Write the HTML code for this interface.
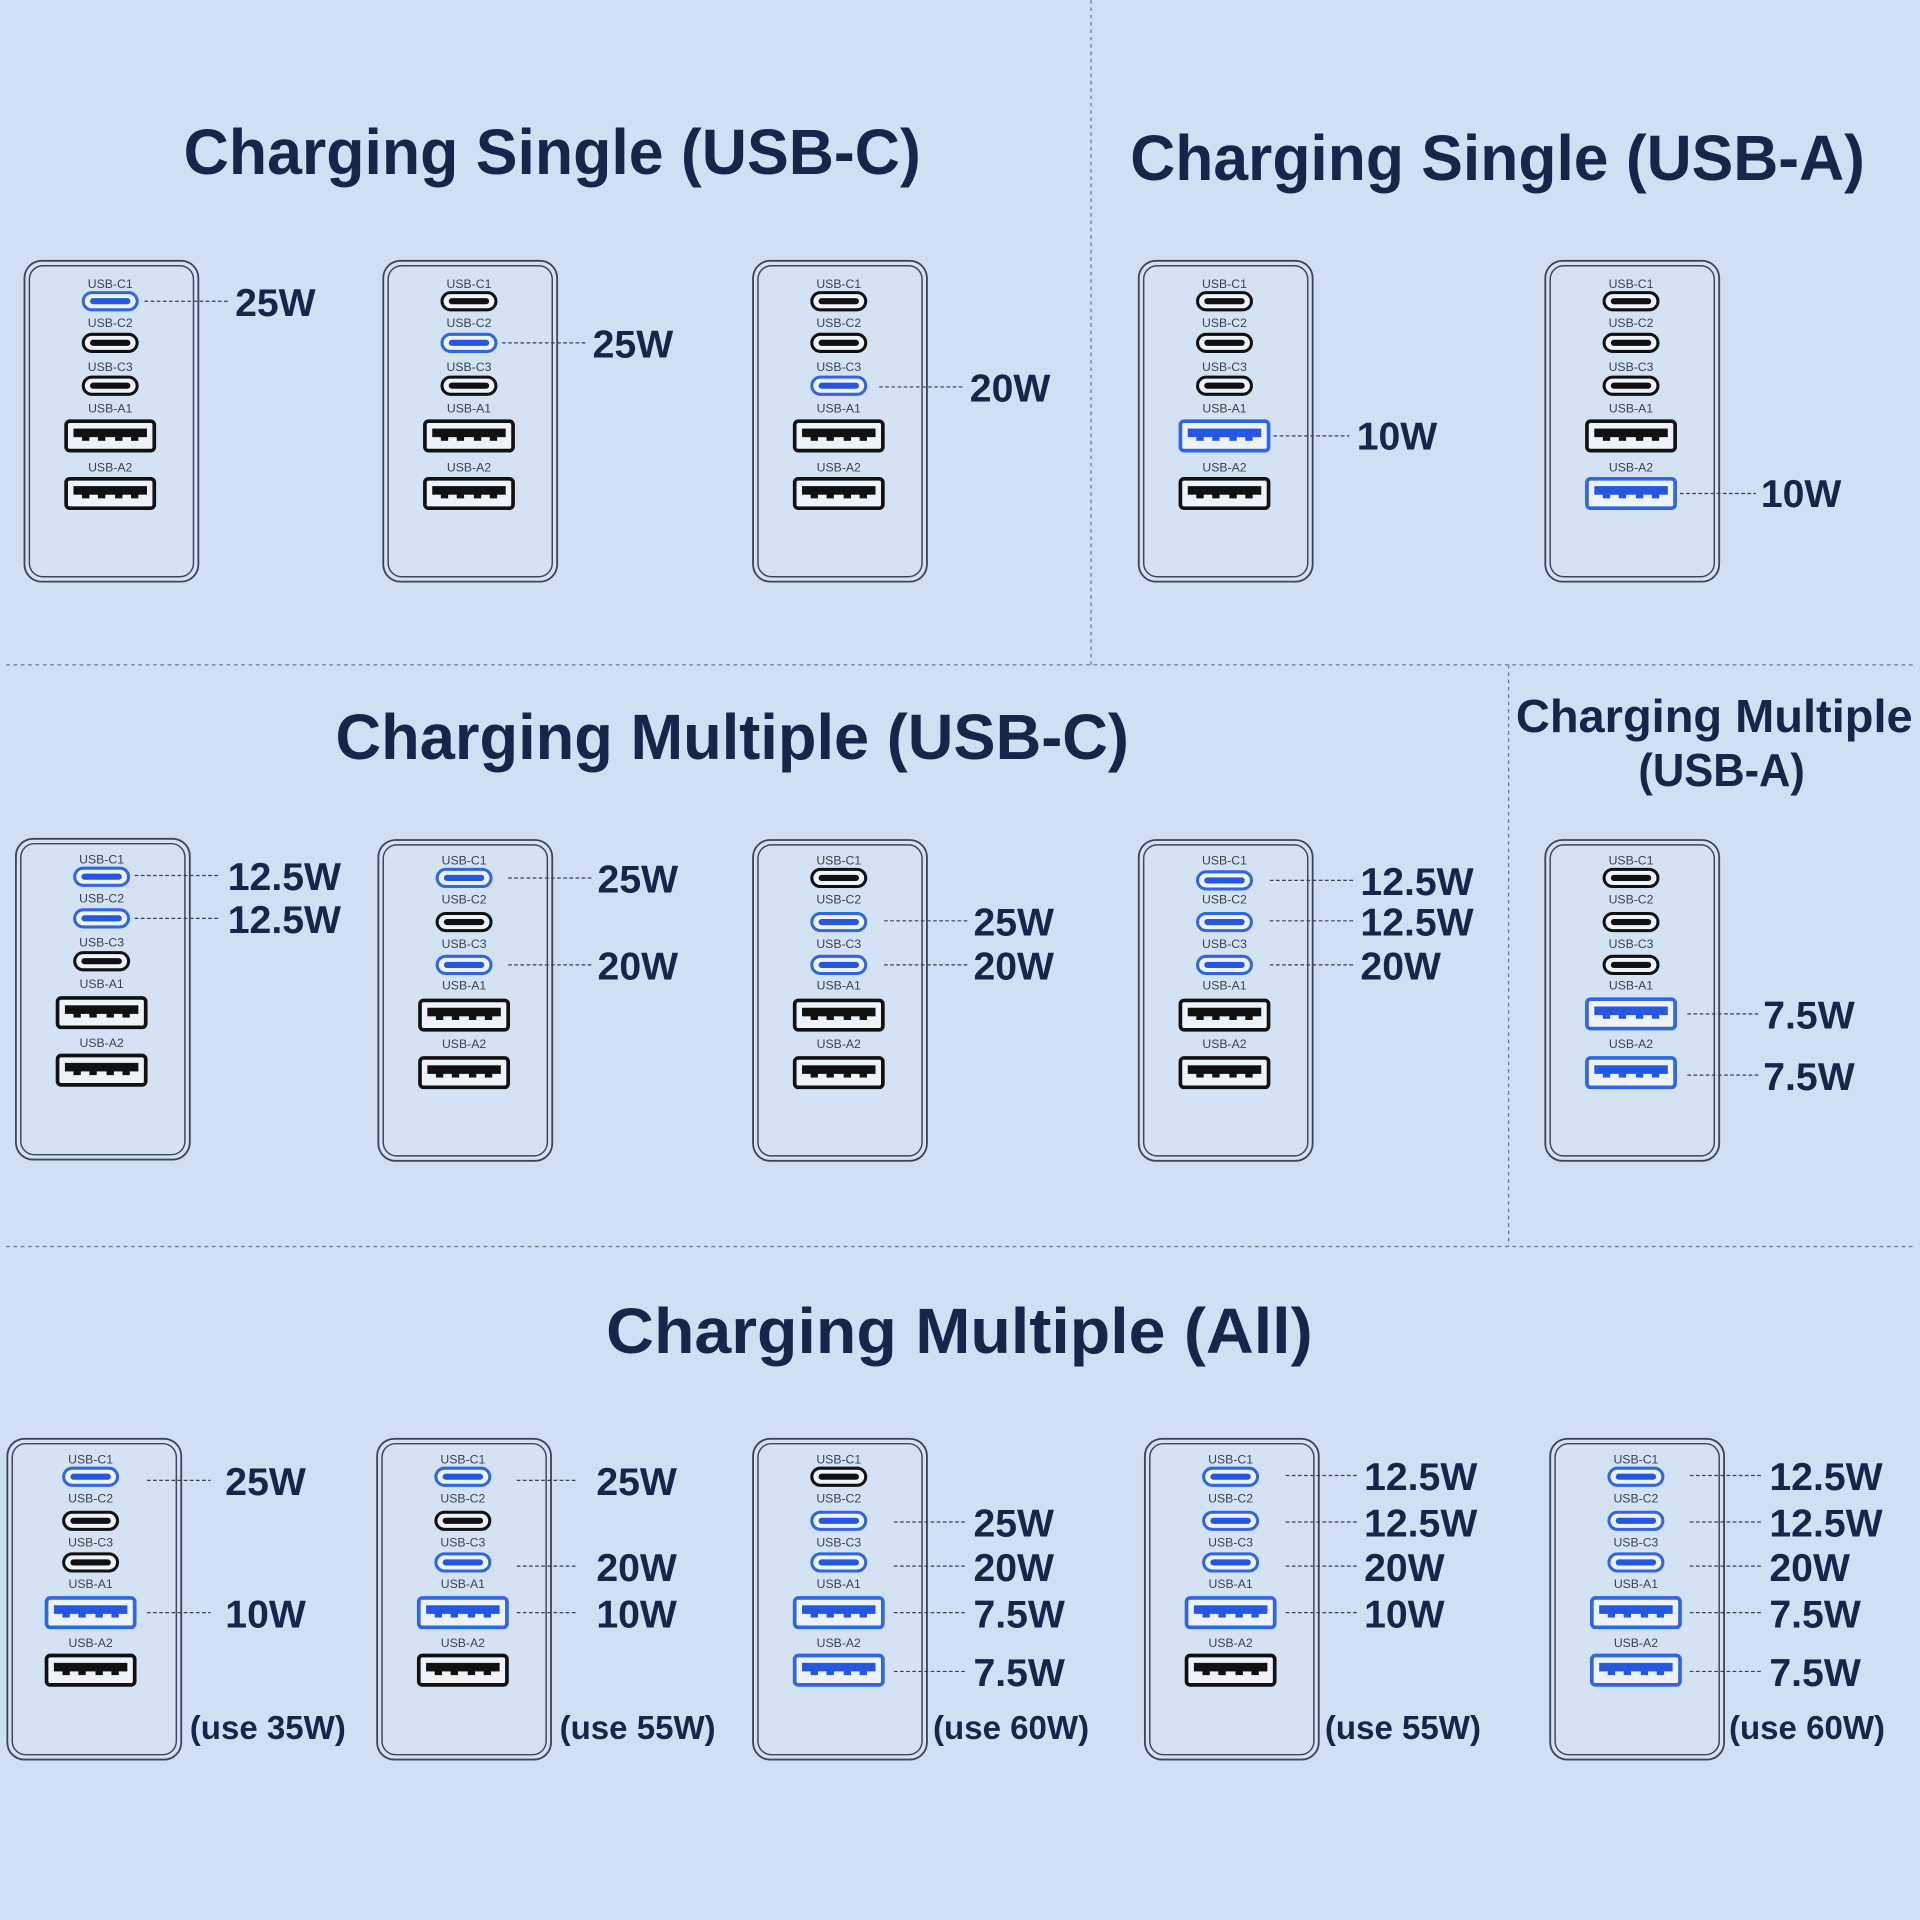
<!DOCTYPE html>
<html><head><meta charset="utf-8"><style>
html,body{margin:0;padding:0;background:#cfe0f2}
svg{display:block}
.t{font-family:"Liberation Sans",sans-serif;font-weight:bold;fill:#16254a}
.w{font-family:"Liberation Sans",sans-serif;font-weight:bold;fill:#16254a;font-size:32px}
.u{font-family:"Liberation Sans",sans-serif;font-weight:bold;fill:#16254a;font-size:27px}
.l{font-family:"Liberation Sans",sans-serif;font-size:10px;fill:#3a4150;text-anchor:middle}
.d{stroke:#3a4150;stroke-width:1;stroke-dasharray:3 2;fill:none}
.g{stroke:#6b7890;stroke-width:1;stroke-dasharray:3 3;fill:none}
</style></head><body>
<svg width="1920" height="1920" viewBox="0 0 1568 1568" xmlns="http://www.w3.org/2000/svg">
<defs>
<g id="box"><rect x="0" y="0" width="142" height="262" rx="14" fill="#d3e3f4" stroke="#3d4658" stroke-width="1.5"/><rect x="4" y="4" width="134" height="254" rx="11" fill="none" stroke="#3d4658" stroke-width="1.2"/></g>
<g id="cB"><rect x="-22" y="-7" width="44" height="14" rx="7" fill="#eef3fa" stroke="#111" stroke-width="2.5"/><line x1="-14" y1="0" x2="14" y2="0" stroke="#111" stroke-width="5" stroke-linecap="round"/></g>
<g id="cU"><rect x="-22" y="-7" width="44" height="14" rx="7" fill="#eef3fa" stroke="#2f66e6" stroke-width="2.5"/><line x1="-14" y1="0" x2="14" y2="0" stroke="#2458e0" stroke-width="5" stroke-linecap="round"/></g>
<g id="aB"><rect x="-36" y="-12" width="72" height="24" rx="3" fill="#eef3fa" stroke="#111" stroke-width="3"/><rect x="-30" y="-6" width="60" height="7" fill="#111"/><rect x="-23" y="0" width="6" height="4" fill="#111"/><rect x="-10" y="0" width="6" height="4" fill="#111"/><rect x="4" y="0" width="6" height="4" fill="#111"/><rect x="17" y="0" width="6" height="4" fill="#111"/></g>
<g id="aU"><rect x="-36" y="-12" width="72" height="24" rx="3" fill="#eef3fa" stroke="#2f66e6" stroke-width="3"/><rect x="-30" y="-6" width="60" height="7" fill="#2458e0"/><rect x="-23" y="0" width="6" height="4" fill="#2458e0"/><rect x="-10" y="0" width="6" height="4" fill="#2458e0"/><rect x="4" y="0" width="6" height="4" fill="#2458e0"/><rect x="17" y="0" width="6" height="4" fill="#2458e0"/></g>
</defs>
<rect width="1568" height="1568" fill="#cfe0f2"/>
<!-- dividers -->
<line class="g" x1="891" y1="0" x2="891" y2="543"/>
<line class="g" x1="5" y1="543" x2="1563" y2="543"/>
<line class="g" x1="1232" y1="543" x2="1232" y2="1018"/>
<line class="g" x1="5" y1="1018" x2="1563" y2="1018"/>
<!-- titles -->
<text class="t" x="150" y="142" font-size="52" textLength="602" lengthAdjust="spacingAndGlyphs">Charging Single (USB-C)</text>
<text class="t" x="923" y="147" font-size="52" textLength="600" lengthAdjust="spacingAndGlyphs">Charging Single (USB-A)</text>
<text class="t" x="274" y="620" font-size="52" textLength="648" lengthAdjust="spacingAndGlyphs">Charging Multiple (USB-C)</text>
<text class="t" x="1238" y="598" font-size="38" textLength="324" lengthAdjust="spacingAndGlyphs">Charging Multiple</text>
<text class="t" x="1338" y="642" font-size="38" textLength="136" lengthAdjust="spacingAndGlyphs">(USB-A)</text>
<text class="t" x="495" y="1105" font-size="52" textLength="577" lengthAdjust="spacingAndGlyphs">Charging Multiple (All)</text>

<!-- ROW 1 -->
<g transform="translate(20,213)"><use href="#box"/><text class="l" x="70" y="22">USB-C1</text><text class="l" x="70" y="54">USB-C2</text><text class="l" x="70" y="90">USB-C3</text><text class="l" x="70" y="124">USB-A1</text><text class="l" x="70" y="172">USB-A2</text><use href="#cU" x="70" y="33"/><use href="#cB" x="70" y="67"/><use href="#cB" x="70" y="102"/><use href="#aB" x="70" y="143"/><use href="#aB" x="70" y="190"/></g>
<line class="d" x1="118" y1="246" x2="188" y2="246"/><text class="w" x="192" y="258">25W</text>

<g transform="translate(313,213)"><use href="#box"/><text class="l" x="70" y="22">USB-C1</text><text class="l" x="70" y="54">USB-C2</text><text class="l" x="70" y="90">USB-C3</text><text class="l" x="70" y="124">USB-A1</text><text class="l" x="70" y="172">USB-A2</text><use href="#cB" x="70" y="33"/><use href="#cU" x="70" y="67"/><use href="#cB" x="70" y="102"/><use href="#aB" x="70" y="143"/><use href="#aB" x="70" y="190"/></g>
<line class="d" x1="410" y1="280" x2="480" y2="280"/><text class="w" x="484" y="292">25W</text>

<g transform="translate(615,213)"><use href="#box"/><text class="l" x="70" y="22">USB-C1</text><text class="l" x="70" y="54">USB-C2</text><text class="l" x="70" y="90">USB-C3</text><text class="l" x="70" y="124">USB-A1</text><text class="l" x="70" y="172">USB-A2</text><use href="#cB" x="70" y="33"/><use href="#cB" x="70" y="67"/><use href="#cU" x="70" y="102"/><use href="#aB" x="70" y="143"/><use href="#aB" x="70" y="190"/></g>
<line class="d" x1="718" y1="316" x2="788" y2="316"/><text class="w" x="792" y="328">20W</text>

<g transform="translate(930,213)"><use href="#box"/><text class="l" x="70" y="22">USB-C1</text><text class="l" x="70" y="54">USB-C2</text><text class="l" x="70" y="90">USB-C3</text><text class="l" x="70" y="124">USB-A1</text><text class="l" x="70" y="172">USB-A2</text><use href="#cB" x="70" y="33"/><use href="#cB" x="70" y="67"/><use href="#cB" x="70" y="102"/><use href="#aU" x="70" y="143"/><use href="#aB" x="70" y="190"/></g>
<line class="d" x1="1040" y1="356" x2="1102" y2="356"/><text class="w" x="1108" y="367">10W</text>

<g transform="translate(1262,213)"><use href="#box"/><text class="l" x="70" y="22">USB-C1</text><text class="l" x="70" y="54">USB-C2</text><text class="l" x="70" y="90">USB-C3</text><text class="l" x="70" y="124">USB-A1</text><text class="l" x="70" y="172">USB-A2</text><use href="#cB" x="70" y="33"/><use href="#cB" x="70" y="67"/><use href="#cB" x="70" y="102"/><use href="#aB" x="70" y="143"/><use href="#aU" x="70" y="190"/></g>
<line class="d" x1="1372" y1="403" x2="1434" y2="403"/><text class="w" x="1438" y="414">10W</text>

<!-- ROW 2 -->
<g transform="translate(13,685)"><use href="#box"/><text class="l" x="70" y="20">USB-C1</text><text class="l" x="70" y="52">USB-C2</text><text class="l" x="70" y="88">USB-C3</text><text class="l" x="70" y="122">USB-A1</text><text class="l" x="70" y="170">USB-A2</text><use href="#cU" x="70" y="31"/><use href="#cU" x="70" y="65"/><use href="#cB" x="70" y="100"/><use href="#aB" x="70" y="142"/><use href="#aB" x="70" y="189"/></g>
<line class="d" x1="110" y1="715" x2="180" y2="715"/><text class="w" x="186" y="727">12.5W</text>
<line class="d" x1="110" y1="750" x2="180" y2="750"/><text class="w" x="186" y="762">12.5W</text>

<g transform="translate(309,686)"><use href="#box"/><text class="l" x="70" y="20">USB-C1</text><text class="l" x="70" y="52">USB-C2</text><text class="l" x="70" y="88">USB-C3</text><text class="l" x="70" y="122">USB-A1</text><text class="l" x="70" y="170">USB-A2</text><use href="#cU" x="70" y="31"/><use href="#cB" x="70" y="67"/><use href="#cU" x="70" y="102"/><use href="#aB" x="70" y="143"/><use href="#aB" x="70" y="190"/></g>
<line class="d" x1="415" y1="717" x2="485" y2="717"/><text class="w" x="488" y="729">25W</text>
<line class="d" x1="415" y1="788" x2="485" y2="788"/><text class="w" x="488" y="800">20W</text>

<g transform="translate(615,686)"><use href="#box"/><text class="l" x="70" y="20">USB-C1</text><text class="l" x="70" y="52">USB-C2</text><text class="l" x="70" y="88">USB-C3</text><text class="l" x="70" y="122">USB-A1</text><text class="l" x="70" y="170">USB-A2</text><use href="#cB" x="70" y="31"/><use href="#cU" x="70" y="67"/><use href="#cU" x="70" y="102"/><use href="#aB" x="70" y="143"/><use href="#aB" x="70" y="190"/></g>
<line class="d" x1="722" y1="752" x2="792" y2="752"/><text class="w" x="795" y="764">25W</text>
<line class="d" x1="722" y1="788" x2="792" y2="788"/><text class="w" x="795" y="800">20W</text>

<g transform="translate(930,686)"><use href="#box"/><text class="l" x="70" y="20">USB-C1</text><text class="l" x="70" y="52">USB-C2</text><text class="l" x="70" y="88">USB-C3</text><text class="l" x="70" y="122">USB-A1</text><text class="l" x="70" y="170">USB-A2</text><use href="#cU" x="70" y="33"/><use href="#cU" x="70" y="67"/><use href="#cU" x="70" y="102"/><use href="#aB" x="70" y="143"/><use href="#aB" x="70" y="190"/></g>
<line class="d" x1="1037" y1="719" x2="1107" y2="719"/><text class="w" x="1111" y="731">12.5W</text>
<line class="d" x1="1037" y1="752" x2="1107" y2="752"/><text class="w" x="1111" y="764">12.5W</text>
<line class="d" x1="1037" y1="788" x2="1107" y2="788"/><text class="w" x="1111" y="800">20W</text>

<g transform="translate(1262,686)"><use href="#box"/><text class="l" x="70" y="20">USB-C1</text><text class="l" x="70" y="52">USB-C2</text><text class="l" x="70" y="88">USB-C3</text><text class="l" x="70" y="122">USB-A1</text><text class="l" x="70" y="170">USB-A2</text><use href="#cB" x="70" y="31"/><use href="#cB" x="70" y="67"/><use href="#cB" x="70" y="102"/><use href="#aU" x="70" y="142"/><use href="#aU" x="70" y="190"/></g>
<line class="d" x1="1378" y1="828" x2="1436" y2="828"/><text class="w" x="1440" y="840">7.5W</text>
<line class="d" x1="1378" y1="878" x2="1436" y2="878"/><text class="w" x="1440" y="890">7.5W</text>

<!-- ROW 3 -->
<g transform="translate(6,1175)"><use href="#box"/><text class="l" x="68" y="20">USB-C1</text><text class="l" x="68" y="52">USB-C2</text><text class="l" x="68" y="88">USB-C3</text><text class="l" x="68" y="122">USB-A1</text><text class="l" x="68" y="170">USB-A2</text><use href="#cU" x="68" y="31"/><use href="#cB" x="68" y="67"/><use href="#cB" x="68" y="101"/><use href="#aU" x="68" y="142"/><use href="#aB" x="68" y="189"/></g>
<line class="d" x1="120" y1="1209" x2="172" y2="1209"/><text class="w" x="184" y="1221">25W</text>
<line class="d" x1="120" y1="1317" x2="172" y2="1317"/><text class="w" x="184" y="1329">10W</text>
<text class="u" x="155" y="1420">(use 35W)</text>

<g transform="translate(308,1175)"><use href="#box"/><text class="l" x="70" y="20">USB-C1</text><text class="l" x="70" y="52">USB-C2</text><text class="l" x="70" y="88">USB-C3</text><text class="l" x="70" y="122">USB-A1</text><text class="l" x="70" y="170">USB-A2</text><use href="#cU" x="70" y="31"/><use href="#cB" x="70" y="67"/><use href="#cU" x="70" y="101"/><use href="#aU" x="70" y="142"/><use href="#aB" x="70" y="189"/></g>
<line class="d" x1="422" y1="1209" x2="472" y2="1209"/><text class="w" x="487" y="1221">25W</text>
<line class="d" x1="422" y1="1279" x2="472" y2="1279"/><text class="w" x="487" y="1291">20W</text>
<line class="d" x1="422" y1="1317" x2="472" y2="1317"/><text class="w" x="487" y="1329">10W</text>
<text class="u" x="457" y="1420">(use 55W)</text>

<g transform="translate(615,1175)"><use href="#box"/><text class="l" x="70" y="20">USB-C1</text><text class="l" x="70" y="52">USB-C2</text><text class="l" x="70" y="88">USB-C3</text><text class="l" x="70" y="122">USB-A1</text><text class="l" x="70" y="170">USB-A2</text><use href="#cB" x="70" y="31"/><use href="#cU" x="70" y="67"/><use href="#cU" x="70" y="101"/><use href="#aU" x="70" y="142"/><use href="#aU" x="70" y="189"/></g>
<line class="d" x1="730" y1="1243" x2="790" y2="1243"/><text class="w" x="795" y="1255">25W</text>
<line class="d" x1="730" y1="1279" x2="790" y2="1279"/><text class="w" x="795" y="1291">20W</text>
<line class="d" x1="730" y1="1317" x2="790" y2="1317"/><text class="w" x="795" y="1329">7.5W</text>
<line class="d" x1="730" y1="1365" x2="790" y2="1365"/><text class="w" x="795" y="1377">7.5W</text>
<text class="u" x="762" y="1420">(use 60W)</text>

<g transform="translate(935,1175)"><use href="#box"/><text class="l" x="70" y="20">USB-C1</text><text class="l" x="70" y="52">USB-C2</text><text class="l" x="70" y="88">USB-C3</text><text class="l" x="70" y="122">USB-A1</text><text class="l" x="70" y="170">USB-A2</text><use href="#cU" x="70" y="31"/><use href="#cU" x="70" y="67"/><use href="#cU" x="70" y="101"/><use href="#aU" x="70" y="142"/><use href="#aB" x="70" y="189"/></g>
<line class="d" x1="1050" y1="1205" x2="1110" y2="1205"/><text class="w" x="1114" y="1217">12.5W</text>
<line class="d" x1="1050" y1="1243" x2="1110" y2="1243"/><text class="w" x="1114" y="1255">12.5W</text>
<line class="d" x1="1050" y1="1279" x2="1110" y2="1279"/><text class="w" x="1114" y="1291">20W</text>
<line class="d" x1="1050" y1="1317" x2="1110" y2="1317"/><text class="w" x="1114" y="1329">10W</text>
<text class="u" x="1082" y="1420">(use 55W)</text>

<g transform="translate(1266,1175)"><use href="#box"/><text class="l" x="70" y="20">USB-C1</text><text class="l" x="70" y="52">USB-C2</text><text class="l" x="70" y="88">USB-C3</text><text class="l" x="70" y="122">USB-A1</text><text class="l" x="70" y="170">USB-A2</text><use href="#cU" x="70" y="31"/><use href="#cU" x="70" y="67"/><use href="#cU" x="70" y="101"/><use href="#aU" x="70" y="142"/><use href="#aU" x="70" y="189"/></g>
<line class="d" x1="1380" y1="1205" x2="1440" y2="1205"/><text class="w" x="1445" y="1217">12.5W</text>
<line class="d" x1="1380" y1="1243" x2="1440" y2="1243"/><text class="w" x="1445" y="1255">12.5W</text>
<line class="d" x1="1380" y1="1279" x2="1440" y2="1279"/><text class="w" x="1445" y="1291">20W</text>
<line class="d" x1="1380" y1="1317" x2="1440" y2="1317"/><text class="w" x="1445" y="1329">7.5W</text>
<line class="d" x1="1380" y1="1365" x2="1440" y2="1365"/><text class="w" x="1445" y="1377">7.5W</text>
<text class="u" x="1412" y="1420">(use 60W)</text>
</svg>
</body></html>
